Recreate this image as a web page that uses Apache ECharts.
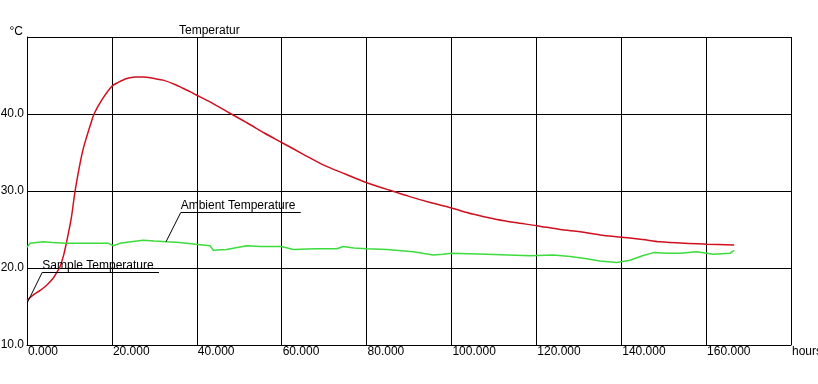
<!DOCTYPE html>
<html>
<head>
<meta charset="utf-8">
<script src="https://cdn.jsdelivr.net/npm/echarts@6/dist/echarts.min.js"></script>
<style>
html,body{margin:0;padding:0;background:#fff;}
#chart{width:818px;height:384px;}
</style>
</head>
<body>
<div id="chart"></div>
<script>
// ---- data ----
var chartTitle = 'Temperatur';
var yUnit = '°C';
var xUnit = 'hours';

var sampleName = 'Sample Temperature';
var sampleHours = [0, 1.5, 3.1, 4.7, 6.2, 7.0, 7.8, 8.6, 9.3, 10.0, 10.5, 11.3, 12.5, 13.3, 14.1, 15.0, 15.8, 17.6, 20.0, 21.5, 23.5, 25.5, 27.4, 30.0, 32.1, 35.0, 38.4, 39.8, 43.0, 47.8, 52.0, 56.0, 60.0, 65.0, 69.8, 75.0, 79.9, 85.5, 90.0, 95.0, 100, 105, 110.7, 115, 120.1, 125.6, 130.3, 135, 140.1, 145, 149.1, 155, 160.1, 166.6];
var sampleTemp  = [15.8, 16.5, 17.1, 17.8, 18.7, 19.4, 20.2, 21.6, 23.3, 25.2, 26.7, 29.9, 33.6, 35.6, 37.1, 38.7, 40.0, 41.8, 43.6, 44.1, 44.6, 44.8, 44.8, 44.6, 44.4, 43.8, 42.9, 42.5, 41.6, 40.1, 38.8, 37.5, 36.3, 34.8, 33.4, 32.2, 31.1, 30.1, 29.3, 28.5, 27.8, 27.0, 26.3, 25.9, 25.5, 25.0, 24.7, 24.3, 24.0, 23.7, 23.4, 23.2, 23.1, 23.0];

var ambientName = 'Ambient Temperature';
var ambientHours = [0, 0.7, 3.8, 6, 9.3, 14, 19.2, 20.3, 21.9, 24.5, 27.4, 30, 32.9, 36, 39.8, 43.1, 43.9, 47.0, 51.8, 55, 60, 62.7, 68, 73.0, 74.5, 77, 80, 84.8, 91.0, 95.7, 98, 100, 108.3, 118.5, 124, 128, 131.9, 135, 138.9, 142.1, 145, 147.6, 151, 153.9, 157.8, 161.7, 165.6, 166.6];
var ambientTemp  = [22.7, 23.2, 23.4, 23.3, 23.2, 23.2, 23.2, 22.9, 23.2, 23.4, 23.6, 23.5, 23.4, 23.3, 23.1, 22.9, 22.3, 22.4, 22.9, 22.8, 22.8, 22.4, 22.5, 22.5, 22.8, 22.6, 22.5, 22.4, 22.1, 21.7, 21.8, 21.9, 21.8, 21.6, 21.7, 21.5, 21.2, 20.9, 20.7, 21.0, 21.6, 22.0, 21.9, 21.9, 22.1, 21.8, 21.9, 22.3];

// annotation anchors in data units [hours, °C]
var sampleNoteAnchor = [0.16, 15.6], sampleNoteElbow = [3.6, 19.44], sampleNoteEnd = [31.1, 19.44];
var ambientNoteAnchor = [32.75, 23.4], ambientNoteElbow = [36.2, 27.18], ambientNoteEnd = [64.5, 27.18];

function pairs(xs, ys) { return xs.map(function (x, i) { return [x, ys[i]]; }); }

var font = 'Liberation Sans, Arial, sans-serif';

function note(text, anchor, elbow, end) {
  return {
    silent: true,
    symbol: 'none',
    animation: false,
    lineStyle: { color: '#000', width: 1, type: 'solid' },
    emphasis: { disabled: true },
    label: { show: false },
    data: [
      [{ coord: anchor }, { coord: elbow }],
      [{ coord: elbow, label: { show: true, position: 'insideStartTop', formatter: text, color: '#000', fontSize: 12, fontFamily: font, distance: [0, 1] } }, { coord: end }]
    ]
  };
}

var chart = echarts.init(document.getElementById('chart'), null, { renderer: 'canvas' });
chart.setOption({
  animation: false,
  backgroundColor: '#fff',
  title: {
    text: chartTitle, left: 179, top: 25, padding: 0,
    textStyle: { fontSize: 12, fontWeight: 'normal', color: '#000', fontFamily: font }
  },
  grid: { left: 27, right: 27, top: 37, bottom: 39, containLabel: false, outerBoundsMode: 'none' },
  xAxis: {
    type: 'value', min: 0, max: 180, interval: 20,
    name: xUnit, nameLocation: 'end', nameGap: 1,
    nameTextStyle: { color: '#000', fontSize: 12, fontFamily: font, align: 'left', verticalAlign: 'top', padding: [1, 0, 0, 0] },
    axisLine: { show: true, lineStyle: { color: '#000', width: 1 } },
    axisTick: { show: false },
    splitLine: { show: true, lineStyle: { color: '#000', width: 1 } },
    axisLabel: {
      color: '#000', fontSize: 12, fontFamily: font, align: 'left', margin: 1, padding: [0, 0, 0, 1],
      formatter: function (v) { return v >= 180 ? '' : v.toFixed(3); }
    }
  },
  yAxis: {
    type: 'value', min: 10, max: 50, interval: 10,
    name: yUnit, nameLocation: 'end', nameGap: 0,
    nameTextStyle: { color: '#000', fontSize: 12, fontFamily: font, align: 'right', verticalAlign: 'bottom', padding: [0, 4, -1, 0] },
    axisLine: { show: true, lineStyle: { color: '#000', width: 1 } },
    axisTick: { show: false },
    splitLine: { show: true, lineStyle: { color: '#000', width: 1 } },
    axisLabel: {
      color: '#000', fontSize: 12, fontFamily: font, margin: 3, padding: [0, 0, 12, 0],
      formatter: function (v) { return v >= 50 ? '' : v.toFixed(1); }
    }
  },
  series: [
    {
      name: sampleName, type: 'line', data: pairs(sampleHours, sampleTemp),
      showSymbol: false, symbol: 'none', smooth: 0.3,
      lineStyle: { color: '#d0101e', width: 1.5 },
      markLine: note(sampleName, sampleNoteAnchor, sampleNoteElbow, sampleNoteEnd)
    },
    {
      name: ambientName, type: 'line', data: pairs(ambientHours, ambientTemp),
      showSymbol: false, symbol: 'none',
      lineStyle: { color: '#3cdc3c', width: 1.5 },
      markLine: note(ambientName, ambientNoteAnchor, ambientNoteElbow, ambientNoteEnd)
    }
  ]
});
</script>
</body>
</html>
